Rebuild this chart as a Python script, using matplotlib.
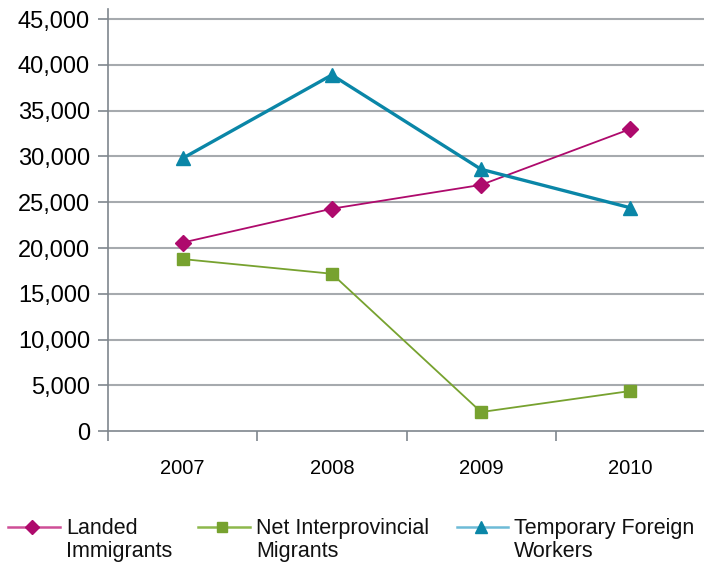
import matplotlib
matplotlib.use("Agg")
import matplotlib.pyplot as plt
from matplotlib.lines import Line2D
from matplotlib.ticker import FuncFormatter, FixedLocator

plt.rcParams['font.family'] = ['Liberation Sans', 'DejaVu Sans']

years = ["2007", "2008", "2009", "2010"]
landed_immigrants = [20600, 24300, 26900, 33000]
net_interprovincial = [18800, 17200, 2100, 4400]
temporary_foreign = [29800, 38900, 28600, 24400]

series_names = ["Landed\nImmigrants", "Net Interprovincial\nMigrants", "Temporary Foreign\nWorkers"]

c_landed = "#AE0A6C"
c_net = "#77A22F"
c_tfw = "#0A86A7"
grid_c = "#A6AAAE"
axis_c = "#7F868D"

fig = plt.figure(figsize=(7.04, 5.67), dpi=100)
ax = fig.add_axes([108 / 704, 135.7 / 567, (705 - 108) / 704, (431.3 - 9) / 567])

x = list(range(len(years)))
ax.plot(x, landed_immigrants, color=c_landed, lw=1.3, marker="D", ms=8.5,
        mec=c_landed, mfc=c_landed, zorder=4)
ax.plot(x, net_interprovincial, color=c_net, lw=1.3, marker="s", ms=8.5,
        mec=c_net, mfc=c_net, zorder=4)
ax.plot(x, temporary_foreign, color=c_tfw, lw=2.4, marker="^", ms=10,
        mec=c_tfw, mfc=c_tfw, zorder=5)

ax.set_xlim(-0.5, 3.5)
ax.set_ylim(0, 46100)
yt = list(range(0, 45001, 5000))
ax.yaxis.set_major_locator(FixedLocator(yt))
ax.yaxis.set_major_formatter(FuncFormatter(lambda v, p: f"{int(v):,}"))
for v in yt[1:]:
    ax.axhline(v, color=grid_c, lw=1.5, zorder=1)

# category boundaries carry the tick marks, labels sit at category centers
ax.xaxis.set_major_locator(FixedLocator([-0.5, 0.5, 1.5, 2.5, 3.5]))
ax.xaxis.set_minor_locator(FixedLocator(x))
ax.set_xticklabels([""] * 5)
ax.set_xticklabels(years, minor=True)
ax.tick_params(axis="x", which="major", length=7, width=1.2, color=axis_c, direction="out")
ax.tick_params(axis="x", which="minor", length=0, pad=20, labelsize=14.5)
ax.tick_params(axis="y", length=7, width=1.2, color=axis_c, direction="out",
               pad=6, labelsize=17)

for s in ["top", "right"]:
    ax.spines[s].set_visible(False)
for s in ["left", "bottom"]:
    ax.spines[s].set_color(axis_c)
    ax.spines[s].set_linewidth(1.2)

# legend drawn in figure pixels
W, H = 704, 567
entries = [
    (series_names[0], "#CE4E97", c_landed, "D", 8, 60, 32, 66, 7),
    (series_names[1], "#8DB84C", c_net, "s", 198, 250, 222, 256, 7.5),
    (series_names[2], "#6DBBD7", c_tfw, "^", 457, 508, 481, 514, 8.5),
]
ly = 527
for label, lc, mc, mk, x0, x1, xm, xt, ms in entries:
    fig.add_artist(Line2D([x0 / W, x1 / W], [1 - ly / H, 1 - ly / H],
                          transform=fig.transFigure, color=lc, lw=1.8))
    fig.add_artist(Line2D([xm / W], [1 - ly / H], transform=fig.transFigure,
                          marker=mk, ms=ms, color=mc, lw=0))
    fig.text(xt / W, 1 - 518 / H, label, ha="left", va="top", fontsize=15.5,
             linespacing=1.12, color="#111111")

fig.savefig("out.png", dpi=100, facecolor="white")
